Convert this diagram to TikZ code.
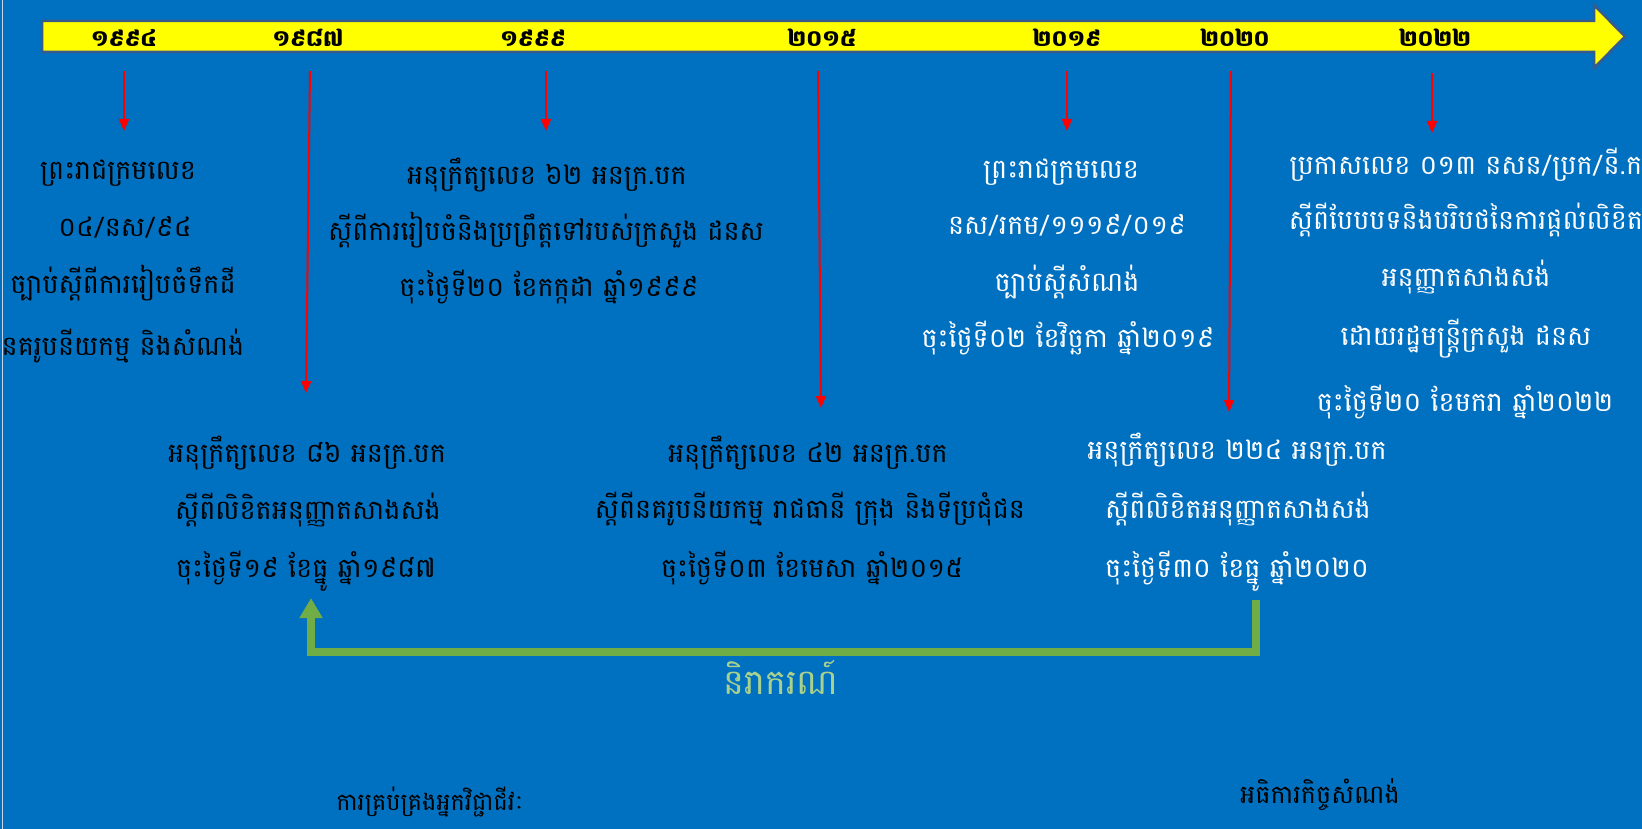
\documentclass[tikz,border=0pt]{standalone}
\usepackage{fontspec}
\newfontfamily\kh[Script=Khmer]{Battambang}
\usetikzlibrary{arrows.meta}
\definecolor{bgblue}{HTML}{0070C0}
\definecolor{baryellow}{HTML}{FFFF00}
\definecolor{barline}{HTML}{3A5A8C}
\definecolor{arrred}{HTML}{FF0000}
\definecolor{arrgreen}{HTML}{70AD47}
\definecolor{lblgreen}{HTML}{A9D18E}
\definecolor{edgegray}{HTML}{C8D4E4}
\begin{document}
\begin{tikzpicture}[x=1pt,y=-1pt,
  yearlbl/.style={font=\kh\bfseries\fontsize{22.5}{22.5}\selectfont,text=black,inner sep=0,anchor=base},
  linetxt/.style={font=\kh\fontsize{27}{27}\selectfont,inner sep=0,anchor=base},
  blacktxt/.style={linetxt,text=black},
  whitetxt/.style={linetxt,text=white},
  bottomtxt/.style={font=\kh\fontsize{24}{24}\selectfont,inner sep=0,anchor=base,text=black},
  redarrow/.style={draw=arrred,line width=2pt,-{Triangle[length=12pt,width=10pt]}},
  greenarrow/.style={draw=arrgreen,line width=7.5pt,line join=miter,-{Triangle[length=20pt,width=22pt]}},
  greenlbl/.style={font=\kh\fontsize{35}{35}\selectfont,text=lblgreen,inner sep=0,anchor=base},
]
\useasboundingbox (0,0) rectangle (1642,829);
\clip (0,0) rectangle (1642,829);
\fill[bgblue] (0,0) rectangle (1642,829);
\draw[edgegray,line width=1pt] (2.5,0) -- (2.5,829);

% timeline bar
\draw[fill=baryellow,draw=barline,line width=2.5pt,line join=miter]
  (42,21) -- (1594,21) -- (1594,5) -- (1625,36.5) -- (1594,68) -- (1594,52) -- (42,52) -- cycle;

\node[yearlbl] (y1) at (124,47) {១៩៩៤};
\node[yearlbl] (y2) at (308,47) {១៩៨៧};
\node[yearlbl] (y3) at (533,47) {១៩៩៩};
\node[yearlbl] (y4) at (822,47) {២០១៥};
\node[yearlbl] (y5) at (1067,47) {២០១៩};
\node[yearlbl] (y6) at (1235,47) {២០២០};
\node[yearlbl] (y7) at (1435,47) {២០២២};

% arrow end points
\coordinate (r1s) at (124,71);  \coordinate (r1e) at (124,131);
\coordinate (r2s) at (310,71);  \coordinate (r2e) at (306,393);
\coordinate (r3s) at (546,71);  \coordinate (r3e) at (546,131);
\coordinate (r4s) at (818,71);  \coordinate (r4e) at (821,408);
\coordinate (r5s) at (1067,71); \coordinate (r5e) at (1067,131);
\coordinate (r6s) at (1231,71); \coordinate (r6e) at (1229,412);
\coordinate (r7s) at (1432,73); \coordinate (r7e) at (1432,133);
\foreach \i in {1,...,7} \draw[redarrow] (r\i s) -- (r\i e);

% block A (1994)
\node[blacktxt] (a1) at (118,180) {ព្រះរាជក្រមលេខ};
\node[blacktxt] (a2) at (125,237) {០៤/នស/៩៤};
\node[blacktxt] (a3) at (123,294) {ច្បាប់ស្តីពីការរៀបចំទឹកដី};
\node[blacktxt] (a4) at (123,355) {នគរូបនីយកម្ម និងសំណង់};

% block B (1999)
\node[blacktxt] (b1) at (547,185) {អនុក្រឹត្យលេខ ៦២ អនក្រ.បក};
\node[blacktxt] (b2) at (546,241) {ស្តីពីការរៀបចំនិងប្រព្រឹត្តទៅរបស់ក្រសួង ដនស};
\node[blacktxt] (b3) at (549,297) {ចុះថ្ងៃទី២០ ខែកក្កដា ឆ្នាំ១៩៩៩};

% block C (2019)
\node[whitetxt] (c1) at (1061,179) {ព្រះរាជក្រមលេខ};
\node[whitetxt] (c2) at (1067,235) {នស/រកម/១១១៩/០១៩};
\node[whitetxt] (c3) at (1067,291) {ច្បាប់ស្តីសំណង់};
\node[whitetxt] (c4) at (1068,347) {ចុះថ្ងៃទី០២ ខែវិច្ឆកា ឆ្នាំ២០១៩};

% block D (2022)
\node[whitetxt] (d1) at (1466,175) {ប្រកាសលេខ ០១៣ នសន/ប្រក/នី.ក};
\node[whitetxt] (d2) at (1466,230) {ស្តីពីបែបបទនិងបរិបថនៃការផ្តល់លិខិត};
\node[whitetxt] (d3) at (1466,287) {អនុញ្ញាតសាងសង់};
\node[whitetxt] (d4) at (1466,345) {ដោយរដ្ឋមន្ត្រីក្រសួង ដនស};
\node[whitetxt] (d5) at (1465,411) {ចុះថ្ងៃទី២០ ខែមករា ឆ្នាំ២០២២};

% block E (1987)
\node[blacktxt] (e1) at (307,462) {អនុក្រឹត្យលេខ ៨៦ អនក្រ.បក};
\node[blacktxt] (e2) at (308,519) {ស្តីពីលិខិតអនុញ្ញាតសាងសង់};
\node[blacktxt] (e3) at (306,577) {ចុះថ្ងៃទី១៩ ខែធ្នូ ឆ្នាំ១៩៨៧};

% block F (2015)
\node[blacktxt] (f1) at (808,462) {អនុក្រឹត្យលេខ ៤២ អនក្រ.បក};
\node[blacktxt] (f2) at (810,518) {ស្តីពីនគរូបនីយកម្ម រាជធានី ក្រុង និងទីប្រជុំជន};
\node[blacktxt] (f3) at (812,577) {ចុះថ្ងៃទី០៣ ខែមេសា ឆ្នាំ២០១៥};

% block G (2020)
\node[whitetxt] (g1) at (1237,459) {អនុក្រឹត្យលេខ ២២៤ អនក្រ.បក};
\node[whitetxt] (g2) at (1238,518) {ស្តីពីលិខិតអនុញ្ញាតសាងសង់};
\node[whitetxt] (g3) at (1237,577) {ចុះថ្ងៃទី៣០ ខែធ្នូ ឆ្នាំ២០២០};

% repeal arrow
\coordinate (gs) at (1256,600);
\coordinate (ge) at (311,598);
\draw[greenarrow] (gs) -- (1256,652) -- (311,652) -- (ge);
\node[greenlbl] (gl) at (781,694) {និរាករណ៍};

% bottom labels
\node[bottomtxt] (p1) at (430,810) {ការគ្រប់គ្រងអ្នកវិជ្ជាជីវៈ};
\node[bottomtxt,font=\kh\fontsize{25.5}{25.5}\selectfont] (p2) at (1320,803) {អធិការកិច្ចសំណង់};
\end{tikzpicture}
\end{document}
